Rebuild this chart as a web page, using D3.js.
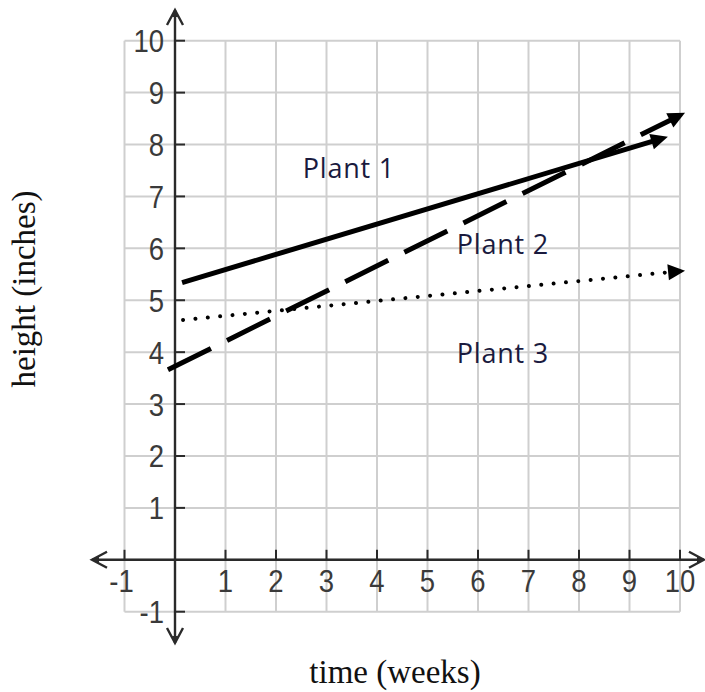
<!DOCTYPE html>
<html>
<head>
<meta charset="utf-8">
<script src="https://cdn.jsdelivr.net/npm/d3@7"></script>
<style>
  html, body { margin: 0; padding: 0; background: #fff; }
  svg { display: block; }
</style>
</head>
<body>
<svg id="chart" width="705" height="692"></svg>
<script>
// ---- data ----
const xTicks = [-1, 1, 2, 3, 4, 5, 6, 7, 8, 9, 10];
const yTicks = [-1, 1, 2, 3, 4, 5, 6, 7, 8, 9, 10];
const gridValues = [-1, 0, 1, 2, 3, 4, 5, 6, 7, 8, 9, 10];

const plantNames = ["Plant 1", "Plant 2", "Plant 3"];
const plant1 = [[0.14, 5.34], [9.76, 8.15]];   // solid
const plant2 = [[-0.14, 3.66], [10.1, 8.61]];  // dashed
const plant3 = [[0.16, 4.62], [10.1, 5.57]];   // dotted
const labelPos = [[2.53, 7.36], [5.58, 5.9], [5.58, 3.8]];

const xTitle = "time (weeks)";
const yTitle = "height (inches)";

// ---- scales ----
const x = d3.scaleLinear().domain([-1, 10]).range([124.5, 680]);
const y = d3.scaleLinear().domain([-1, 10]).range([611.7, 40.7]);

const svg = d3.select("#chart");

// grid
const grid = svg.append("g").attr("stroke", "#cfcfcf").attr("stroke-width", 2);
grid.selectAll("line.v").data(gridValues).join("line")
  .attr("x1", d => x(d)).attr("x2", d => x(d))
  .attr("y1", y(-1)).attr("y2", y(10));
grid.selectAll("line.h").data(gridValues).join("line")
  .attr("y1", d => y(d)).attr("y2", d => y(d))
  .attr("x1", x(-1)).attr("x2", x(10));

// axes
const axisColor = "#2a2a2a";
const ax = svg.append("g").attr("stroke", axisColor).attr("stroke-width", 2.4).attr("fill", "none");
const x0 = x(0), y0 = y(0);
const xl = 92, xr = 704, yt = 10, yb = 643;
ax.append("line").attr("x1", xl).attr("x2", xr).attr("y1", y0).attr("y2", y0);
ax.append("line").attr("x1", x0).attr("x2", x0).attr("y1", yt).attr("y2", yb);
// chevron arrowheads
const ch = 8, cl = 15;
ax.append("path").attr("d", `M${x0 - ch},${yt + cl} L${x0},${yt} L${x0 + ch},${yt + cl}`);
ax.append("path").attr("d", `M${x0 - ch},${yb - cl} L${x0},${yb} L${x0 + ch},${yb - cl}`);
ax.append("path").attr("d", `M${xl + cl},${y0 - ch} L${xl},${y0} L${xl + cl},${y0 + ch}`);
ax.append("path").attr("d", `M${xr - cl},${y0 - ch} L${xr},${y0} L${xr - cl},${y0 + ch}`);
const tips = svg.append("g").attr("fill", axisColor);
tips.append("path").attr("d", `M${x0 - 3},${yt + 7} L${x0},${yt} L${x0 + 3},${yt + 7} Z`);
tips.append("path").attr("d", `M${x0 - 3},${yb - 7} L${x0},${yb} L${x0 + 3},${yb - 7} Z`);
tips.append("path").attr("d", `M${xl + 7},${y0 - 3} L${xl},${y0} L${xl + 7},${y0 + 3} Z`);
tips.append("path").attr("d", `M${xr - 7},${y0 - 3} L${xr},${y0} L${xr - 7},${y0 + 3} Z`);

// ticks
const tk = svg.append("g").attr("stroke", axisColor).attr("stroke-width", 2);
tk.selectAll("line.xt").data(xTicks).join("line")
  .attr("x1", d => x(d)).attr("x2", d => x(d)).attr("y1", y0 - 10).attr("y2", y0);
tk.selectAll("line.yt").data(yTicks).join("line")
  .attr("y1", d => y(d)).attr("y2", d => y(d)).attr("x1", x0).attr("x2", x0 + 10);

// tick labels
const tickFont = "'Liberation Sans', Arial, sans-serif";
const tl = svg.append("g").attr("font-family", tickFont).attr("font-size", 32).attr("fill", "#3a3a3a");
tl.selectAll("text.xl").data(xTicks).join("text")
  .attr("text-anchor", "middle")
  .attr("transform", d => `translate(${x(d) + (d === -1 ? -3 : 0)},${y0 + 32}) scale(0.86,1)`)
  .text(d => d === -1 ? "-1" : d);
tl.selectAll("text.yl").data(yTicks).join("text")
  .attr("text-anchor", "end")
  .attr("transform", d => `translate(${x0 - 11},${y(d) + 11.5}) scale(0.86,1)`)
  .text(d => d === -1 ? "-1" : d);

// plant lines
const arrowLen = 17, arrowHalf = 8;
function shortened(pts, cut) {
  const [a, b] = pts;
  const ax1 = x(a[0]), ay1 = y(a[1]), bx = x(b[0]), by = y(b[1]);
  const L = Math.hypot(bx - ax1, by - ay1);
  const ux = (bx - ax1) / L, uy = (by - ay1) / L;
  return { d: `M${ax1},${ay1} L${bx - ux * cut},${by - uy * cut}`, bx, by, ux, uy };
}
function arrowHead(g, s) {
  const px = -s.uy, py = s.ux;
  const baseX = s.bx - s.ux * arrowLen, baseY = s.by - s.uy * arrowLen;
  g.append("path")
    .attr("d", `M${s.bx},${s.by} L${baseX + px * arrowHalf},${baseY + py * arrowHalf} L${baseX - px * arrowHalf},${baseY - py * arrowHalf} Z`)
    .attr("fill", "#000");
}
const pl = svg.append("g").attr("fill", "none").attr("stroke", "#000");

const s1 = shortened(plant1, 12);
pl.append("path").attr("d", s1.d).attr("stroke-width", 5);
arrowHead(svg, s1);

const s2 = shortened(plant2, 12);
pl.append("path").attr("d", s2.d).attr("stroke-width", 5).attr("stroke-dasharray", "48,18");
arrowHead(svg, s2);

const s3 = shortened(plant3, 16);
pl.append("path").attr("d", s3.d).attr("stroke-width", 4)
  .attr("stroke-linecap", "round").attr("stroke-dasharray", "0.01,12.4");
arrowHead(svg, s3);

// plant labels
svg.append("g").attr("font-family", "'Open Sans', 'Noto Sans', sans-serif")
  .attr("font-size", 27).attr("fill", "#1a1a3e").attr("letter-spacing", 0.8)
  .selectAll("text").data(plantNames).join("text")
  .attr("x", (d, i) => x(labelPos[i][0]))
  .attr("y", (d, i) => y(labelPos[i][1]))
  .text(d => d);

// axis titles
const titleFont = "'Liberation Serif', 'Times New Roman', serif";
svg.append("text").attr("font-family", titleFont).attr("font-size", 33).attr("fill", "#111")
  .attr("text-anchor", "middle").attr("x", 395).attr("y", 683).text(xTitle);
svg.append("text").attr("font-family", titleFont).attr("font-size", 33).attr("fill", "#111")
  .attr("text-anchor", "middle").attr("transform", "translate(35,289) rotate(-90)").text(yTitle);
</script>
</body>
</html>
